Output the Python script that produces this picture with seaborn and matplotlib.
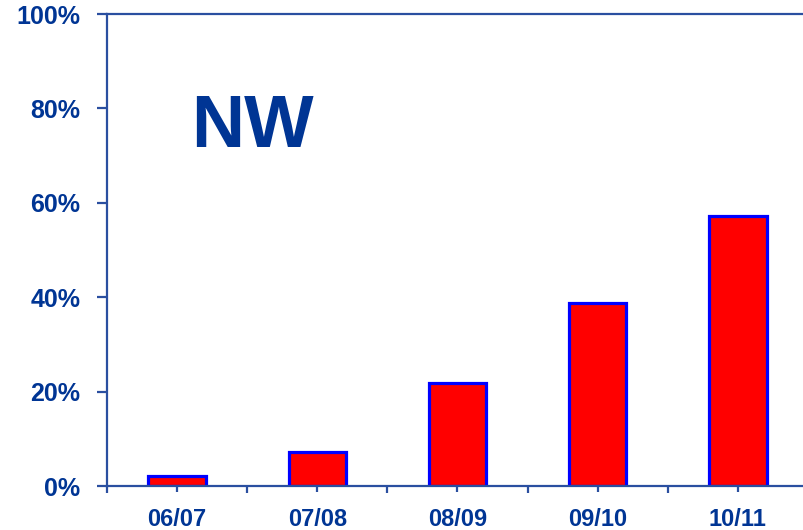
import numpy as np
import pandas as pd
import matplotlib.pyplot as plt
import seaborn as sns

# Values (percent)
seasons = ['06/07', '07/08', '08/09', '09/10', '10/11']
share = [2.2, 7.1, 21.8, 38.7, 57.2]
y_ticks = [0, 20, 40, 60, 80, 100]
y_labels = ['0%', '20%', '40%', '60%', '80%', '100%']

NAVY = '#003594'
SPINE = '#2a4fa0'


def visualize():
    df = pd.DataFrame({'Season': seasons, 'Share': share})

    sns.set_style('white')
    plt.rcParams['font.family'] = ['Liberation Sans', 'DejaVu Sans']

    fig = plt.figure(figsize=(8.04, 5.30), dpi=100)
    ax = fig.add_axes([107 / 804, 1 - 486 / 530, 701 / 804, 472 / 530])

    sns.barplot(x='Season', y='Share', data=df, ax=ax, color='#ff0000',
                width=0.41, edgecolor='#0000ff', linewidth=2.3, saturation=1)

    ax.set_xlim(-0.5, 4.5)
    ax.set_ylim(0, 100)
    ax.set_xlabel('')
    ax.set_ylabel('')

    ax.set_yticks(y_ticks)
    ax.set_yticklabels(y_labels)
    ax.set_xticks(range(len(seasons)))
    ax.set_xticklabels(seasons)
    ax.set_xticks(np.arange(-0.5, 5, 1), minor=True)

    for side in ['left', 'bottom', 'top']:
        ax.spines[side].set_visible(True)
        ax.spines[side].set_color(SPINE)
        ax.spines[side].set_linewidth(1.6)
    ax.spines['right'].set_visible(False)

    ax.tick_params(axis='y', which='major', direction='out', length=7, width=1.6,
                   color=SPINE, pad=12, labelsize=18, labelcolor=NAVY, left=True)
    ax.tick_params(axis='x', which='major', direction='out', length=4, width=1.6,
                   color=SPINE, pad=12, labelsize=17, labelcolor=NAVY, bottom=True)
    ax.tick_params(axis='x', which='minor', direction='out', length=5, width=1.6,
                   color=SPINE, bottom=True)
    for lab in ax.get_xticklabels() + ax.get_yticklabels():
        lab.set_fontweight('bold')

    ax.text(0.2076, 0.760, 'NW', transform=ax.transAxes, ha='center', va='center',
            fontsize=53, fontweight='bold', color=NAVY)

    fig.savefig('out.png', dpi=100)


if __name__ == '__main__':
    visualize()
